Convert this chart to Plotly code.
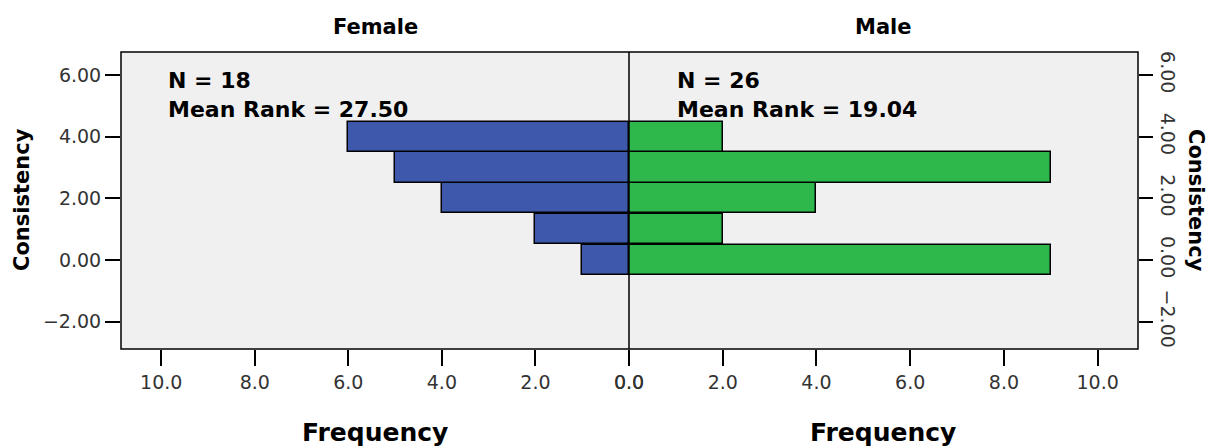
import plotly.graph_objects as go

consistency = [0, 1, 2, 3, 4]
female_freq = [1, 2, 4, 5, 6]
male_freq = [9, 2, 4, 9, 2]
y_ticks = [-2, 0, 2, 4, 6]
x_ticks = [0, 2, 4, 6, 8, 10]
female_label = ["N = 18", "Mean Rank = 27.50"]
male_label = ["N = 26", "Mean Rank = 19.04"]

OFF = 8  # browser body margin
W, H = 1214 - OFF, 448 - OFF
L, R, T, B = 121, 1138, 52, 349  # plot area in window pixels
mid = (629 - L) / (R - L)

BLUE = "#3e58ab"
GREEN = "#2eb84b"
FONT = "DejaVu Sans"

fig = go.Figure()
fig.add_trace(go.Bar(y=consistency, x=female_freq, orientation="h", width=0.98,
                     marker=dict(color=BLUE, line=dict(color="black", width=1.5)),
                     xaxis="x", yaxis="y", showlegend=False))
fig.add_trace(go.Bar(y=consistency, x=male_freq, orientation="h", width=0.98,
                     marker=dict(color=GREEN, line=dict(color="black", width=1.5)),
                     xaxis="x2", yaxis="y2", showlegend=False))

yr = [-2.89, 6.75]
xr = 10.86
tickfont = dict(family=FONT, size=19, color="#333")
fig.update_layout(
    width=W, height=H,
    margin=dict(l=L - OFF, r=W - (R - OFF), t=T - OFF, b=H - (B - OFF), pad=0),
    paper_bgcolor="white", plot_bgcolor="#f0f0f0",
    bargap=0,
    xaxis=dict(domain=[0, mid], range=[xr, 0], tickvals=x_ticks, tickformat=".1f",
               ticks="outside", ticklen=16, tickwidth=1.5, tickcolor="black",
               showgrid=False, zeroline=False, showline=False, tickfont=tickfont,
               anchor="y"),
    xaxis2=dict(domain=[mid, 1], range=[0, xr], tickvals=x_ticks, tickformat=".1f",
                ticks="outside", ticklen=16, tickwidth=1.5, tickcolor="black",
                showgrid=False, zeroline=False, showline=False, tickfont=tickfont,
                anchor="y2"),
    yaxis=dict(range=yr, tickvals=y_ticks, tickformat=".2f", ticks="outside",
               ticklen=15, tickwidth=1.5, tickcolor="black", showgrid=False,
               zeroline=False, showline=False, tickfont=tickfont, anchor="x"),
    yaxis2=dict(range=yr, tickvals=y_ticks, tickformat=".2f", ticks="outside",
                ticklen=14, tickwidth=1.5, tickcolor="black", showgrid=False,
                zeroline=False, showline=False, tickfont=tickfont, side="right",
                tickangle=90, anchor="x2"),
)

fig.add_shape(type="rect", xref="paper", yref="paper", x0=0, x1=1, y0=0, y1=1,
              line=dict(color="black", width=1.5), layer="above")
fig.add_shape(type="line", xref="paper", yref="paper", x0=mid, x1=mid, y0=0, y1=1,
              line=dict(color="black", width=1.5), layer="above")

def px_x(p):
    return (p - L) / (R - L)

def px_y(p):
    return (B - p) / (B - T)

def bold(size):
    return dict(family=FONT, size=size, color="black")

ann = [
    dict(text="<b>Female</b>", x=px_x(375), y=px_y(27), font=bold(21)),
    dict(text="<b>Male</b>", x=px_x(883), y=px_y(27), font=bold(21)),
    dict(text="<b>Frequency</b>", x=px_x(375), y=px_y(432), font=bold(25)),
    dict(text="<b>Frequency</b>", x=px_x(883), y=px_y(432), font=bold(25)),
    dict(text="<b>Consistency</b>", x=px_x(22), y=px_y(200), textangle=-90, font=bold(21)),
    dict(text="<b>Consistency</b>", x=px_x(1196), y=px_y(200), textangle=90, font=bold(21)),
]
for a in ann:
    fig.add_annotation(xref="paper", yref="paper", showarrow=False,
                       xanchor="center", yanchor="middle", **a)

for lbl, xs in [(female_label, 167), (male_label, 676)]:
    fig.add_annotation(xref="paper", yref="paper", showarrow=False,
                       xanchor="left", yanchor="middle", align="left",
                       x=px_x(xs), y=px_y(95), borderpad=0,
                       text="<br>".join(f"<b>{t}</b>" for t in lbl),
                       font=bold(22))

fig.write_html("out.html")
